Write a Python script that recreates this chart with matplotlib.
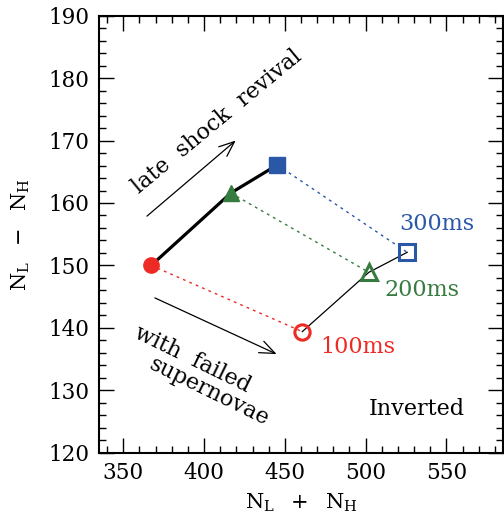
import matplotlib
matplotlib.use("Agg")
import matplotlib.pyplot as plt
from matplotlib.ticker import MultipleLocator

plt.rcParams['font.family'] = ['DejaVu Serif']
plt.rcParams['mathtext.fontset'] = 'dejavuserif'

# data
labels = ['100ms', '200ms', '300ms']
colors = ['#ee2a24', '#367b3f', '#2b57a7']
markers = ['o', '^', 's']
normal_x = [367.3, 416.6, 445.3]
normal_y = [150.0, 161.6, 166.1]
inverted_x = [460.8, 502.0, 525.7]
inverted_y = [139.4, 148.9, 152.1]
label_x = [495.2, 534.7, 543.8]
label_y = [136.9, 146.0, 156.6]

fig = plt.figure(figsize=(5.04, 5.18), dpi=100)
ax = fig.add_axes([0.1964, 0.126, 0.998 - 0.1964, 0.9697 - 0.126])

# dotted connectors
for i in range(3):
    ax.plot([normal_x[i], inverted_x[i]], [normal_y[i], inverted_y[i]],
            ls=(0, (2, 3)), lw=1.0, color=colors[i], zorder=1)

ax.plot(normal_x, normal_y, color='black', lw=2.3, zorder=2)
ax.plot(inverted_x, inverted_y, color='black', lw=0.9, zorder=2)

for i in range(3):
    ms = 11 if markers[i] != '^' else 12
    ax.plot(normal_x[i], normal_y[i], marker=markers[i], ms=ms,
            color=colors[i], mec=colors[i], ls='none', zorder=3)
    ax.plot(inverted_x[i], inverted_y[i], marker=markers[i], ms=ms,
            mfc='none', mec=colors[i], mew=2.2, ls='none', zorder=3)
    ax.text(label_x[i], label_y[i], labels[i], color=colors[i], fontsize=16,
            ha='center', va='center')

# arrows
ax.annotate('', xy=(419.6, 170.0), xytext=(364.7, 157.9),
            arrowprops=dict(arrowstyle='->,head_length=1.1,head_width=0.45',
                            lw=0.9, color='black', shrinkA=0, shrinkB=0))
ax.annotate('', xy=(444.9, 135.8), xytext=(369.6, 144.8),
            arrowprops=dict(arrowstyle='->,head_length=1.1,head_width=0.45',
                            lw=0.9, color='black', shrinkA=0, shrinkB=0))

ax.text(408.0, 173.0, 'late  shock  revival', rotation=39.6, fontsize=16,
        ha='center', va='center', rotation_mode='anchor')
ax.text(393.1, 135.0, 'with  failed', rotation=-26, fontsize=16,
        ha='center', va='center', rotation_mode='anchor')
ax.text(403.0, 129.8, 'supernovae', rotation=-26, fontsize=16,
        ha='center', va='center', rotation_mode='anchor')
ax.text(531.4, 127.0, 'Inverted', fontsize=16, ha='center', va='center')

ax.set_xlim(335, 585)
ax.set_ylim(120, 190)
ax.xaxis.set_major_locator(MultipleLocator(50))
ax.xaxis.set_minor_locator(MultipleLocator(10))
ax.yaxis.set_major_locator(MultipleLocator(10))
ax.yaxis.set_minor_locator(MultipleLocator(2))
ax.tick_params(which='both', direction='in', top=True, right=True, labelsize=15.5)
ax.tick_params(which='major', length=11, width=1.0, pad=7)
ax.tick_params(which='minor', length=5, width=1.0)
for s in ax.spines.values():
    s.set_linewidth(1.5)

ax.set_xlabel(r'$\mathrm{N_L\ \ +\ \ N_H}$', fontsize=15, labelpad=5)
ax.set_ylabel(r'$\mathrm{N_L\ \ -\ \ N_H}$', fontsize=15, labelpad=12)

fig.savefig('out.png', dpi=100)
